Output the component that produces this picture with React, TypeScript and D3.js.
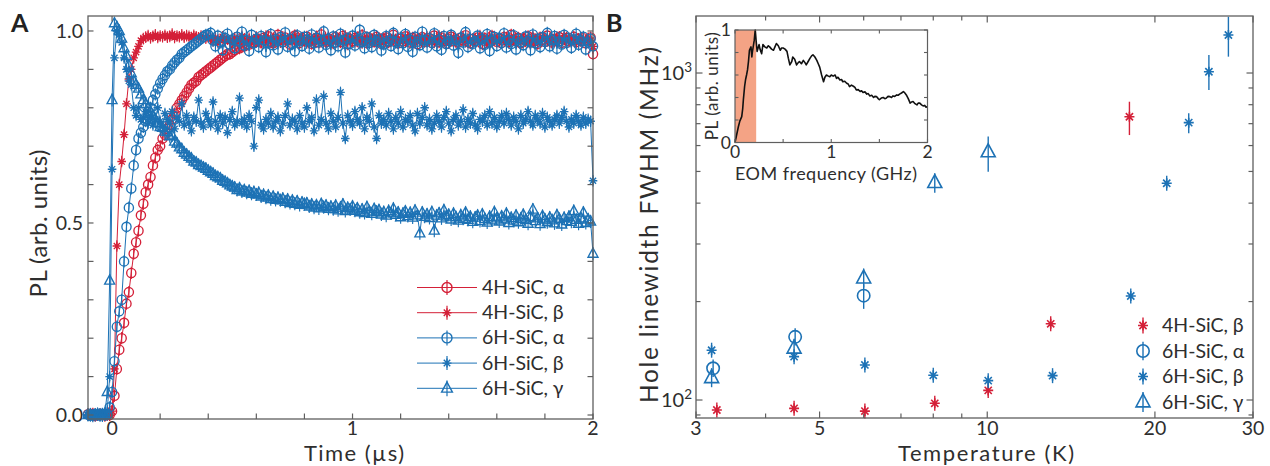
import React from 'react';
import * as d3 from 'd3';

const RED = '#d42038';
const BLUE = '#1d72b5';
const AXC = '#5f5f5f';
const TXT = '#2e2e2e';
const FONT = 'Lato, "Open Sans", sans-serif';

// ---------------- Panel A data (time in µs, PL normalised) ----------------
const timeUs = d3.range(211).map((i) => +(-0.1 + i * 0.01).toFixed(2));

const pl4HAlpha = [
  0.002, 0.0, 0.003, -0.002, 0.001, 0.0, 0.002, -0.001, 0.001, 0.0,
  0.01, 0.05, 0.12, 0.17, 0.2, 0.24, 0.29, 0.32, 0.37, 0.42,
  0.45, 0.48, 0.52, 0.55, 0.58, 0.6, 0.62, 0.65, 0.67, 0.69,
  0.7, 0.72, 0.73, 0.745, 0.755, 0.77, 0.785, 0.8, 0.81, 0.82,
  0.83, 0.84, 0.85, 0.86, 0.865, 0.87, 0.88, 0.885, 0.89, 0.895,
  0.9, 0.905, 0.91, 0.915, 0.92, 0.925, 0.93, 0.935, 0.94, 0.94,
  0.945, 0.95, 0.955, 0.955, 0.96, 0.96, 0.965, 0.965, 0.97, 0.97,
  0.972,
  0.978, 0.97, 0.982, 0.975, 0.986, 0.972, 0.968, 0.98, 0.99, 0.976,
  0.971, 0.983, 0.977, 0.965, 0.979, 0.988, 0.974, 0.969, 0.981, 0.976,
  0.985, 0.973, 0.967, 0.978, 0.982, 0.97, 0.991, 0.977, 0.972, 0.98,
  0.975, 0.968, 0.984, 0.979, 0.971, 0.987, 0.976, 0.966, 0.98, 0.974,
  0.982, 0.977, 0.97, 0.989, 0.975, 0.969, 0.981, 0.978, 0.972, 0.985,
  0.976, 0.967, 0.979, 0.983, 0.971, 0.977, 0.99, 0.974, 0.968, 0.98,
  0.973, 0.986, 0.978, 0.97, 0.982, 0.975, 0.966, 0.979, 0.984, 0.972,
  0.977, 0.981, 0.969, 0.988, 0.976, 0.971, 0.983, 0.974, 0.967, 0.98,
  0.985, 0.973, 0.978, 0.97, 0.982, 0.976, 0.989, 0.972, 0.968, 0.979,
  0.974, 0.983, 0.977, 0.966, 0.981, 0.975, 0.97, 0.987, 0.978, 0.972,
  0.98, 0.969, 0.984, 0.976, 0.971, 0.99, 0.977, 0.973, 0.982, 0.968,
  0.979, 0.975, 0.986, 0.97, 0.981, 0.974, 0.967, 0.983, 0.977, 0.972,
  0.988, 0.976, 0.97, 0.98, 0.975, 0.984, 0.969, 0.978, 0.982, 0.973,
  0.977, 0.985, 0.971, 0.979, 0.974, 0.981, 0.968, 0.976, 0.983,
  0.94,
];

const pl4HBeta = [
  0.0, 0.002, -0.001, 0.001, 0.0, 0.003, 0.0, -0.002, 0.001, 0.0,
  0.01, 0.12, 0.44, 0.6, 0.66, 0.73, 0.81, 0.875, 0.9, 0.93, 0.945, 0.96, 0.975, 0.98,
  0.984, 0.988, 0.982, 0.986, 0.99, 0.983, 0.987, 0.985, 0.989, 0.984,
  0.986, 0.992, 0.983, 0.987, 0.985, 0.99, 0.984, 0.988, 0.986, 0.983,
  0.989, 0.985, 0.982, 0.987, 0.984, 0.981, 0.985,
  0.979, 0.974, 0.983, 0.97, 0.977, 0.985, 0.972, 0.98, 0.975, 0.968,
  0.982, 0.976, 0.971, 0.986, 0.978, 0.973, 0.981, 0.969, 0.977, 0.984,
  0.975, 0.97, 0.98, 0.987, 0.974, 0.978, 0.967, 0.982, 0.976, 0.971,
  0.985, 0.977, 0.972, 0.98, 0.975, 0.988, 0.97, 0.979, 0.983, 0.974,
  0.969, 0.981, 0.976, 0.972, 0.986, 0.978, 0.973, 0.98, 0.968, 0.984,
  0.977, 0.971, 0.982, 0.975, 0.979, 0.97, 0.987, 0.974, 0.981, 0.976,
  0.972, 0.984, 0.978, 0.969, 0.98, 0.975, 0.983, 0.971, 0.977, 0.986,
  0.974, 0.979, 0.968, 0.982, 0.976, 0.973, 0.985, 0.978, 0.97, 0.981,
  0.977, 0.972, 0.986, 0.975, 0.98, 0.969, 0.983, 0.976, 0.971, 0.979,
  0.984, 0.974, 0.978, 0.97, 0.982, 0.987, 0.973, 0.977, 0.98, 0.968,
  0.976, 0.983, 0.971, 0.979, 0.975, 0.985, 0.972, 0.981, 0.977, 0.97,
  0.98, 0.975, 0.988, 0.973, 0.978, 0.969, 0.984, 0.976, 0.982, 0.974,
  0.971, 0.979, 0.975, 0.983, 0.97, 0.977, 0.986, 0.972, 0.98, 0.976,
  0.982, 0.973, 0.978, 0.969, 0.985, 0.975, 0.971, 0.98, 0.977, 0.983,
  0.974, 0.981, 0.97, 0.978, 0.984, 0.976, 0.972, 0.987, 0.975, 0.979,
  0.973, 0.98, 0.976, 0.971, 0.983, 0.978, 0.974, 0.981, 0.975,
  0.96,
];

const pl6HAlpha = [
  0.001, -0.002, 0.0, 0.002, 0.0, -0.001, 0.003, 0.0, 0.001, 0.02,
  0.06, 0.14, 0.23, 0.27, 0.3, 0.4, 0.49, 0.54, 0.59, 0.65,
  0.69, 0.72, 0.735, 0.75, 0.765, 0.78, 0.8, 0.82, 0.835, 0.85,
  0.864, 0.875, 0.885, 0.895, 0.9, 0.91, 0.918, 0.925, 0.93, 0.94,
  0.945, 0.95, 0.955, 0.96, 0.965, 0.97, 0.975, 0.98, 0.985, 0.99,
  0.99,
  0.995, 0.975, 0.96, 0.988, 0.97, 0.95, 0.982, 0.993, 0.965, 0.978,
  0.955, 0.985, 0.972, 0.998, 0.962, 0.976, 0.948, 0.99, 0.968, 0.98,
  0.958, 0.987, 0.975, 0.945, 0.97, 0.992, 0.963, 0.978, 0.952, 0.984,
  0.971, 0.996, 0.959, 0.98, 0.966, 0.947, 0.989, 0.973, 0.961, 0.985,
  0.977, 0.954, 0.991, 0.968, 0.982, 0.957, 0.974, 0.999, 0.964, 0.979,
  0.95, 0.986, 0.97, 0.96, 0.993, 0.975, 0.944, 0.981, 0.967, 0.988,
  0.962, 0.976, 1.003, 0.971, 0.955, 0.984, 0.969, 0.958, 0.99, 0.973,
  0.98, 0.949, 0.965, 0.987, 0.974, 0.961, 0.995, 0.97, 0.953, 0.983,
  0.968, 0.992, 0.959, 0.977, 0.946, 0.985, 0.972, 0.963, 0.998, 0.975,
  0.957, 0.981, 0.969, 0.994, 0.96, 0.978, 0.951, 0.987, 0.966, 0.974,
  0.99, 0.962, 0.976, 0.943, 0.983, 0.97, 0.997, 0.958, 0.98, 0.967,
  0.973, 0.988, 0.955, 0.979, 0.964, 0.992, 0.948, 0.975, 0.985, 0.961,
  0.982, 0.969, 0.994, 0.957, 0.977, 0.966, 0.989, 0.952, 0.98, 0.971,
  0.963, 0.986, 0.974, 0.95, 0.991, 0.968, 0.979, 0.958, 0.984, 0.972,
  0.995, 0.96, 0.977, 0.987, 0.954, 0.973, 0.965, 0.99, 0.969, 0.981,
  0.956, 0.978, 0.993, 0.964, 0.975, 0.985, 0.952, 0.97, 0.98,
  0.96,
];

const pl6HBeta = [
  0.0, 0.002, -0.001, 0.001, 0.0, 0.002, -0.002, 0.0, 0.01,
  0.1, 0.64, 0.93, 1.0, 0.99, 0.97, 0.93, 0.9, 0.87, 0.86, 0.8, 0.78, 0.8, 0.77,
  0.775, 0.79, 0.76, 0.78, 0.755, 0.77, 0.8, 0.765, 0.75, 0.785,
  0.77, 0.76, 0.79, 0.745, 0.775, 0.765, 0.81, 0.755, 0.78, 0.76,
  0.74, 0.775, 0.765, 0.82, 0.76, 0.75, 0.785, 0.77, 0.755, 0.815,
  0.765, 0.745, 0.78, 0.76, 0.775, 0.735, 0.77, 0.79, 0.755, 0.765,
  0.825, 0.76, 0.77, 0.75, 0.78, 0.765, 0.7, 0.8, 0.82, 0.755,
  0.745, 0.77, 0.76, 0.785, 0.75, 0.765, 0.775, 0.74, 0.76, 0.78,
  0.81, 0.755, 0.77, 0.765, 0.745, 0.78, 0.76, 0.75, 0.8, 0.765,
  0.775, 0.74, 0.82, 0.755, 0.77, 0.83, 0.76, 0.745, 0.785, 0.765,
  0.75, 0.775, 0.84, 0.76, 0.72, 0.78, 0.765, 0.755, 0.79, 0.77,
  0.76, 0.8, 0.745, 0.775, 0.765, 0.81, 0.75, 0.72, 0.78, 0.76,
  0.77, 0.755, 0.785, 0.765, 0.745, 0.775, 0.76, 0.79, 0.75, 0.77,
  0.765, 0.78, 0.755, 0.74, 0.785, 0.76, 0.775, 0.8, 0.755, 0.77,
  0.745, 0.76, 0.78, 0.765, 0.75, 0.775, 0.79, 0.76, 0.74, 0.77,
  0.78, 0.755, 0.765, 0.795, 0.75, 0.77, 0.76, 0.785, 0.755, 0.745,
  0.77, 0.765, 0.78, 0.755, 0.79, 0.76, 0.775, 0.75, 0.765, 0.78,
  0.76, 0.785, 0.77, 0.755, 0.775, 0.765, 0.745, 0.78, 0.76, 0.77,
  0.79, 0.765, 0.755, 0.78, 0.77, 0.76, 0.785, 0.75, 0.775, 0.765,
  0.755, 0.77, 0.78, 0.76, 0.775, 0.79, 0.765, 0.75, 0.77, 0.76,
  0.78, 0.765, 0.755, 0.775, 0.76, 0.77, 0.765,
  0.61,
];

const pl6HGamma = [
  0.0, 0.001, -0.002, 0.0, 0.002, 0.0, -0.001, 0.002,
  0.06, 0.35, 0.82, 1.02, 1.01, 1.0, 0.98, 0.955, 0.935, 0.91, 0.89, 0.87,
  0.86, 0.85, 0.835, 0.82, 0.81, 0.8, 0.79, 0.78, 0.77, 0.76, 0.75,
  0.748, 0.738, 0.737, 0.726, 0.728, 0.712, 0.707, 0.697, 0.692, 0.683,
  0.678, 0.672, 0.668, 0.66, 0.657, 0.651, 0.648, 0.644, 0.641, 0.636,
  0.632, 0.628, 0.622, 0.619, 0.616, 0.61, 0.607, 0.603, 0.598, 0.595,
  0.592, 0.586, 0.59, 0.582, 0.585, 0.579, 0.583, 0.576, 0.58, 0.574,
  0.578, 0.569, 0.573, 0.566, 0.571, 0.562, 0.568, 0.56, 0.565, 0.559,
  0.563, 0.555, 0.561, 0.552, 0.558, 0.55, 0.556, 0.547, 0.553, 0.549,
  0.551, 0.543, 0.548, 0.54, 0.546, 0.538, 0.549, 0.541, 0.545, 0.537,
  0.542, 0.536, 0.545, 0.533, 0.54, 0.548, 0.531, 0.539, 0.535, 0.543,
  0.532, 0.538, 0.528, 0.535, 0.526, 0.541, 0.53, 0.524, 0.536, 0.529,
  0.533, 0.522, 0.528, 0.519, 0.531, 0.525, 0.537, 0.521, 0.527, 0.515,
  0.524, 0.53, 0.518, 0.526, 0.514, 0.532, 0.52, 0.473, 0.527, 0.516,
  0.522, 0.513, 0.528, 0.48, 0.519, 0.525, 0.512, 0.533, 0.517, 0.521,
  0.509, 0.524, 0.515, 0.506, 0.52, 0.511, 0.527, 0.508, 0.516, 0.503,
  0.514, 0.519, 0.505, 0.522, 0.51, 0.501, 0.516, 0.507, 0.528, 0.512,
  0.504, 0.517, 0.509, 0.524, 0.5, 0.513, 0.506, 0.519, 0.502, 0.511,
  0.521, 0.508, 0.498, 0.515, 0.535, 0.505, 0.512, 0.497, 0.518, 0.509,
  0.502, 0.514, 0.507, 0.499, 0.52, 0.51, 0.496, 0.513, 0.505, 0.516,
  0.503, 0.531, 0.508, 0.498, 0.512, 0.527, 0.5, 0.509, 0.504,
  0.42,
];

const seriesA = [
  { name: '4H-SiC, α', color: RED, marker: 'o', values: pl4HAlpha },
  { name: '4H-SiC, β', color: RED, marker: '*', values: pl4HBeta },
  { name: '6H-SiC, α', color: BLUE, marker: 'o', values: pl6HAlpha },
  { name: '6H-SiC, β', color: BLUE, marker: '*', values: pl6HBeta },
  { name: '6H-SiC, γ', color: BLUE, marker: '^', values: pl6HGamma },
];

// ---------------- Panel B data (temperature in K, FWHM in MHz) ----------------
const temp4HBeta = [3.27, 4.5, 6.03, 8.05, 10.04, 13.0, 18.0];
const fwhm4HBeta = [93.2, 94.3, 92.5, 97.7, 107, 171, 735];
const lo4HBeta = [90, 91, 89.5, 94.5, 102, 165, 646];
const hi4HBeta = [96.5, 97.5, 95.5, 101, 112, 177, 817];

const temp6HAlpha = [3.22, 4.52, 6.0];
const fwhm6HAlpha = [125, 156, 208.5];
const lo6HAlpha = [118, 148, 190];
const hi6HAlpha = [132, 164, 226];

const temp6HBeta = [3.2, 4.5, 6.03, 8.0, 10.04, 13.1, 18.1, 21.0, 23.0, 25.0, 27.1];
const fwhm6HBeta = [142, 135.7, 128, 119, 114.6, 118.7, 208, 460, 705, 1009, 1307];
const lo6HBeta = [136, 130, 123, 114, 110, 113, 198, 440, 654, 887, 1122];
const hi6HBeta = [148, 142, 133, 124, 119, 124, 218, 480, 753, 1135, 1486];

const temp6HGamma = [3.2, 4.5, 6.0, 8.05, 10.04];
const fwhm6HGamma = [117, 144, 236, 462, 574];
const lo6HGamma = [111, 137, 224, 430, 499];
const hi6HGamma = [124, 151, 248, 490, 639];

const seriesB = [
  { name: '4H-SiC, β', color: RED, marker: '*', t: temp4HBeta, v: fwhm4HBeta, lo: lo4HBeta, hi: hi4HBeta },
  { name: '6H-SiC, α', color: BLUE, marker: 'o', t: temp6HAlpha, v: fwhm6HAlpha, lo: lo6HAlpha, hi: hi6HAlpha },
  { name: '6H-SiC, β', color: BLUE, marker: '*', t: temp6HBeta, v: fwhm6HBeta, lo: lo6HBeta, hi: hi6HBeta },
  { name: '6H-SiC, γ', color: BLUE, marker: '^', t: temp6HGamma, v: fwhm6HGamma, lo: lo6HGamma, hi: hi6HGamma },
];

// ---------------- Inset data (EOM frequency in GHz, PL) ----------------
const eomFreq = [
  0, 0.02, 0.035, 0.05, 0.07, 0.08, 0.087, 0.1, 0.11, 0.12, 0.13, 0.14, 0.15, 0.166, 0.175, 0.18, 0.2,
  0.21, 0.22, 0.23, 0.24, 0.25, 0.26, 0.277, 0.29, 0.31, 0.33, 0.346, 0.36, 0.38, 0.4, 0.415, 0.43, 0.45,
  0.47, 0.484, 0.5, 0.52, 0.54, 0.554, 0.57, 0.59, 0.6, 0.62, 0.64, 0.657, 0.67, 0.69, 0.71, 0.727, 0.74,
  0.76, 0.78, 0.796, 0.81, 0.83, 0.85, 0.865, 0.88, 0.9, 0.92, 0.934, 0.95, 0.97, 0.985, 1.0, 1.02, 1.04,
  1.055, 1.07, 1.09, 1.107, 1.12, 1.14, 1.16, 1.176, 1.19, 1.21, 1.23, 1.246, 1.26, 1.28, 1.3, 1.315,
  1.33, 1.35, 1.37, 1.384, 1.4, 1.42, 1.44, 1.453, 1.47, 1.488, 1.5, 1.52, 1.54, 1.557, 1.57, 1.59, 1.61,
  1.626, 1.64, 1.66, 1.68, 1.695, 1.71, 1.73, 1.75, 1.765, 1.78, 1.8, 1.82, 1.834, 1.85, 1.87, 1.89,
  1.903, 1.92, 1.938, 1.955, 1.97, 1.985, 2.0,
];
const eomPL = [
  0, 0.08, 0.14, 0.19, 0.23, 0.3, 0.38, 0.5, 0.56, 0.6, 0.645, 0.72, 0.82, 0.85, 0.76, 0.8, 0.91, 1.0,
  0.9, 0.81, 0.84, 0.87, 0.83, 0.79, 0.87, 0.85, 0.84, 0.86, 0.85, 0.83, 0.82, 0.85, 0.88, 0.86, 0.82,
  0.84, 0.84, 0.83, 0.81, 0.75, 0.69, 0.72, 0.76, 0.74, 0.69, 0.71, 0.72, 0.7, 0.73, 0.71, 0.69, 0.72,
  0.75, 0.77, 0.78, 0.76, 0.73, 0.7, 0.67, 0.6, 0.54, 0.58, 0.6, 0.59, 0.585, 0.6, 0.59, 0.6, 0.57, 0.58,
  0.556, 0.56, 0.54, 0.545, 0.527, 0.52, 0.497, 0.51, 0.5, 0.49, 0.467, 0.47, 0.453, 0.46, 0.444, 0.45,
  0.43, 0.435, 0.414, 0.42, 0.4, 0.41, 0.408, 0.39, 0.38, 0.395, 0.4, 0.39, 0.393, 0.41, 0.408, 0.4,
  0.414, 0.41, 0.423, 0.42, 0.43, 0.44, 0.453, 0.44, 0.423, 0.39, 0.35, 0.36, 0.364, 0.345, 0.334, 0.35,
  0.35, 0.335, 0.325, 0.33, 0.314, 0.32, 0.314,
];
const eomShadeGHz = [0, 0.22];

// tick values
const ticksAx = [0, 0.2, 0.4, 0.6, 0.8, 1, 1.2, 1.4, 1.6, 1.8, 2];
const labelsAx = [0, 1, 2];
const ticksAy = [0, 0.1, 0.2, 0.3, 0.4, 0.5, 0.6, 0.7, 0.8, 0.9, 1.0];
const labelsAy = [0, 0.5, 1.0];
const majorBx = [3, 5, 10, 20, 30];
const minorBx = [4, 6, 7, 8, 9];
const majorBy = [100, 1000];
const minorBy = [90, 200, 300, 400, 500, 600, 700, 800, 900];

// ---------------- layout ----------------
const A = { l: 88, r: 593, t: 16, b: 419 };
const B = { l: 696, r: 1253, t: 16, b: 418 };
const I = { l: 735, r: 927.5, t: 30, b: 142.5 };

function Marker({ type, x, y, color, s, sw, bar }: any) {
  const parts: any[] = [];
  if (type === 'o') {
    parts.push(<circle key="c" cx={x} cy={y} r={s} fill="none" stroke={color} strokeWidth={sw} />);
  } else if (type === '*') {
    const d = s * 0.72;
    parts.push(
      <path
        key="s"
        d={`M${x - s},${y}H${x + s}M${x},${y - s}V${y + s}M${x - d},${y - d}L${x + d},${y + d}M${x - d},${y + d}L${x + d},${y - d}`}
        stroke={color}
        strokeWidth={sw}
        fill="none"
      />
    );
  } else if (type === '^') {
    parts.push(
      <path
        key="t"
        d={`M${x},${y - s * 1.15}L${x + s},${y + s * 0.7}L${x - s},${y + s * 0.7}Z`}
        stroke={color}
        strokeWidth={sw}
        fill="none"
        strokeLinejoin="miter"
      />
    );
  }
  if (bar) {
    parts.push(<line key="b" x1={x} x2={x} y1={bar[0]} y2={bar[1]} stroke={color} strokeWidth={Math.max(1, sw - 0.2)} />);
  }
  return <g>{parts}</g>;
}

function Sup({ base, exp, x, y }: any) {
  return (
    <text x={x} y={y} textAnchor="end" fontSize={20} fill={TXT} fontFamily={FONT}>
      {base}
      <tspan dy={-8} fontSize={13.5}>{exp}</tspan>
    </text>
  );
}

export default function App() {
  // Panel A scales
  const xA = d3.scaleLinear().domain([-0.1, 2.0]).range([A.l, A.r]);
  const yA = d3.scaleLinear().domain([-0.0104, 1.039]).range([A.b, A.t]);
  const lineA = d3
    .line<[number, number]>()
    .x((d) => xA(d[0]))
    .y((d) => yA(d[1]));

  // Panel B scales
  const xB = d3.scaleLog().domain([3, 30]).range([B.l, B.r]);
  const yB = d3.scaleLog().domain([88.1, 1494]).range([B.b, B.t]);

  // Inset scales
  const xI = d3.scaleLinear().domain([0, 2]).range([I.l, I.r]);
  const yI = d3.scaleLinear().domain([0, 1]).range([I.b, I.t]);
  const lineI = d3
    .line<[number, number]>()
    .x((d) => xI(d[0]))
    .y((d) => yI(d[1]));
  const inset: [number, number][] = eomFreq.map((f, i) => [f, eomPL[i]] as [number, number]).filter((d) => d[1] !== undefined);

  const tk = 5.5;

  const legendA = { x0: 417, x1: 477, xm: 447, xt: 482, y0: 287.5, dy: 25.2 };
  const legendB = { xm: 1143, xt: 1162, y0: 325.5, dy: 25.5 };

  return (
    <svg
      width={1270}
      height={466}
      style={{ position: 'absolute', left: 0, top: 0, background: '#fff' }}
      fontFamily={FONT}
    >
      <rect x={0} y={0} width={1270} height={466} fill="#fff" />

      {/* ================= Panel A ================= */}
      <text x={11} y={32} fontSize={25} fontWeight="bold" fill="#222">A</text>

      {/* series */}
      {seriesA.map((s, si) => {
        const pts: [number, number][] = timeUs
          .map((t, i) => [t, s.values[i]] as [number, number])
          .filter((d) => d[1] !== undefined);
        return (
          <g key={si}>
            <path d={lineA(pts) || ''} fill="none" stroke={s.color} strokeWidth={1} />
            {pts.map((d, i) => {
              const cx = xA(d[0]);
              const cy = yA(d[1]);
              const sz = s.marker === 'o' ? 4.6 : s.marker === '^' ? 5 : 4.3;
              return (
                <Marker
                  key={i}
                  type={s.marker}
                  x={cx}
                  y={cy}
                  color={s.color}
                  s={sz}
                  sw={1.35}
                  bar={[cy - sz - 1.5, cy + sz + 1.5]}
                />
              );
            })}
          </g>
        );
      })}

      {/* axes box A */}
      <rect x={A.l} y={A.t} width={A.r - A.l} height={A.b - A.t} fill="none" stroke={AXC} strokeWidth={1.3} />
      {ticksAx.map((t) => (
        <g key={'ax' + t}>
          <line x1={xA(t)} x2={xA(t)} y1={A.b} y2={A.b - tk} stroke={AXC} strokeWidth={1.2} />
          <line x1={xA(t)} x2={xA(t)} y1={A.t} y2={A.t + tk} stroke={AXC} strokeWidth={1.2} />
        </g>
      ))}
      {ticksAy.map((t) => (
        <g key={'ay' + t}>
          <line x1={A.l} x2={A.l + tk} y1={yA(t)} y2={yA(t)} stroke={AXC} strokeWidth={1.2} />
          <line x1={A.r} x2={A.r - tk} y1={yA(t)} y2={yA(t)} stroke={AXC} strokeWidth={1.2} />
        </g>
      ))}
      {labelsAx.map((t) => (
        <text key={'lx' + t} x={xA(t)} y={434.5} textAnchor="middle" fontSize={19.5} fill={TXT}>
          {t}
        </text>
      ))}
      {labelsAy.map((t) => (
        <text key={'ly' + t} x={83} y={yA(t) + 7} textAnchor="end" fontSize={19.5} fill={TXT}>
          {t.toFixed(1)}
        </text>
      ))}
      <text x={354} y={461} textAnchor="middle" fontSize={22} fill={TXT} textLength={100} lengthAdjust="spacing">
        Time (µs)
      </text>
      <text
        transform={`translate(47,${(A.t + A.b) / 2 + 6}) rotate(-90)`}
        textAnchor="middle"
        fontSize={24}
        fill={TXT}
        textLength={148}
        lengthAdjust="spacing"
      >
        PL (arb. units)
      </text>

      {/* legend A */}
      {seriesA.map((s, i) => {
        const y = legendA.y0 + i * legendA.dy;
        const sz = s.marker === 'o' ? 5 : s.marker === '^' ? 5.4 : 4.5;
        return (
          <g key={'la' + i}>
            <line x1={legendA.x0} x2={legendA.x1} y1={y} y2={y} stroke={s.color} strokeWidth={1} />
            <Marker type={s.marker} x={legendA.xm} y={y} color={s.color} s={sz} sw={1.4} bar={[y - sz - 2.5, y + sz + 2.5]} />
            <text x={legendA.xt} y={y + 6.5} fontSize={19.5} fill={TXT}>
              {s.name}
            </text>
          </g>
        );
      })}

      {/* ================= Panel B ================= */}
      <text x={606} y={32} fontSize={25} fontWeight="bold" fill="#222">B</text>

      {seriesB.map((s, si) => (
        <g key={'sb' + si}>
          {s.t.map((t, i) => {
            const cx = xB(t);
            const cy = yB(s.v[i]);
            const sz = s.marker === 'o' ? 6.2 : s.marker === '^' ? 7 : 5;
            const y1 = Math.min(yB(s.hi[i]), cy - sz - 2.5);
            const y2 = Math.max(yB(s.lo[i]), cy + sz + 2.5);
            return (
              <Marker key={i} type={s.marker} x={cx} y={cy} color={s.color} s={sz} sw={1.6} bar={[y1, y2]} />
            );
          })}
        </g>
      ))}

      {/* axes box B */}
      <rect x={B.l} y={B.t} width={B.r - B.l} height={B.b - B.t} fill="none" stroke={AXC} strokeWidth={1.3} />
      {majorBx.map((t) => (
        <g key={'bx' + t}>
          <line x1={xB(t)} x2={xB(t)} y1={B.b} y2={B.b - 6.5} stroke={AXC} strokeWidth={1.2} />
          <line x1={xB(t)} x2={xB(t)} y1={B.t} y2={B.t + 6.5} stroke={AXC} strokeWidth={1.2} />
          <text x={xB(t)} y={434.5} textAnchor="middle" fontSize={19.5} fill={TXT}>
            {t}
          </text>
        </g>
      ))}
      {minorBx.map((t) => (
        <g key={'bmx' + t}>
          <line x1={xB(t)} x2={xB(t)} y1={B.b} y2={B.b - 4.5} stroke={AXC} strokeWidth={1.2} />
          <line x1={xB(t)} x2={xB(t)} y1={B.t} y2={B.t + 4.5} stroke={AXC} strokeWidth={1.2} />
        </g>
      ))}
      {majorBy.map((t) => (
        <g key={'by' + t}>
          <line x1={B.l} x2={B.l + 6.5} y1={yB(t)} y2={yB(t)} stroke={AXC} strokeWidth={1.2} />
          <line x1={B.r} x2={B.r - 6.5} y1={yB(t)} y2={yB(t)} stroke={AXC} strokeWidth={1.2} />
        </g>
      ))}
      {minorBy.map((t) => (
        <g key={'bmy' + t}>
          <line x1={B.l} x2={B.l + 4.5} y1={yB(t)} y2={yB(t)} stroke={AXC} strokeWidth={1.2} />
          <line x1={B.r} x2={B.r - 4.5} y1={yB(t)} y2={yB(t)} stroke={AXC} strokeWidth={1.2} />
        </g>
      ))}
      <Sup base="10" exp="2" x={692} y={yB(100) + 7} />
      <Sup base="10" exp="3" x={692} y={yB(1000) + 7} />
      <text x={986} y={461} textAnchor="middle" fontSize={22} fill={TXT} textLength={176} lengthAdjust="spacing">
        Temperature (K)
      </text>
      <text
        transform={`translate(658,${(B.t + B.b) / 2 + 8}) rotate(-90)`}
        textAnchor="middle"
        fontSize={24.5}
        fill={TXT}
        textLength={356}
        lengthAdjust="spacing"
      >
        Hole linewidth FWHM (MHz)
      </text>

      {/* legend B */}
      {seriesB.map((s, i) => {
        const y = legendB.y0 + i * legendB.dy;
        const sz = s.marker === 'o' ? 6.2 : s.marker === '^' ? 7 : 5;
        return (
          <g key={'lb' + i}>
            <Marker type={s.marker} x={legendB.xm} y={y} color={s.color} s={sz} sw={1.6} bar={[y - sz - 3, y + sz + 3]} />
            <text x={legendB.xt} y={y + 6.5} fontSize={19.5} fill={TXT}>
              {s.name}
            </text>
          </g>
        );
      })}

      {/* ================= Inset ================= */}
      <rect x={I.l} y={I.t} width={I.r - I.l} height={I.b - I.t} fill="#fff" />
      <rect
        x={xI(eomShadeGHz[0])}
        y={I.t}
        width={xI(eomShadeGHz[1]) - xI(eomShadeGHz[0])}
        height={I.b - I.t}
        fill="#f4a385"
      />
      <path d={lineI(inset) || ''} fill="none" stroke="#111" strokeWidth={1.6} strokeLinejoin="round" />
      <rect x={I.l} y={I.t} width={I.r - I.l} height={I.b - I.t} fill="none" stroke={AXC} strokeWidth={1.2} />
      {[0, 0.5, 1, 1.5, 2].map((t) => (
        <g key={'ix' + t}>
          <line x1={xI(t)} x2={xI(t)} y1={I.b} y2={I.b - 3.5} stroke={AXC} strokeWidth={1.1} />
          <line x1={xI(t)} x2={xI(t)} y1={I.t} y2={I.t + 3.5} stroke={AXC} strokeWidth={1.1} />
        </g>
      ))}
      {[0, 0.2, 0.4, 0.6, 0.8, 1].map((t) => (
        <g key={'iy' + t}>
          <line x1={I.l} x2={I.l + 3.5} y1={yI(t)} y2={yI(t)} stroke={AXC} strokeWidth={1.1} />
          <line x1={I.r} x2={I.r - 3.5} y1={yI(t)} y2={yI(t)} stroke={AXC} strokeWidth={1.1} />
        </g>
      ))}
      {[0, 1, 2].map((t) => (
        <text key={'ilx' + t} x={xI(t)} y={157.5} textAnchor="middle" fontSize={17.5} fill={TXT}>
          {t}
        </text>
      ))}
      {[0, 1].map((t) => (
        <text key={'ily' + t} x={731} y={yI(t) + 6} textAnchor="end" fontSize={17.5} fill={TXT}>
          {t}
        </text>
      ))}
      <text x={826} y={179.5} textAnchor="middle" fontSize={18} fill={TXT} textLength={182} lengthAdjust="spacing">
        EOM frequency (GHz)
      </text>
      <text
        transform={`translate(718,${(I.t + I.b) / 2}) rotate(-90)`}
        textAnchor="middle"
        fontSize={17}
        fill={TXT}
        textLength={108}
        lengthAdjust="spacing"
      >
        PL (arb. units)
      </text>
    </svg>
  );
}
